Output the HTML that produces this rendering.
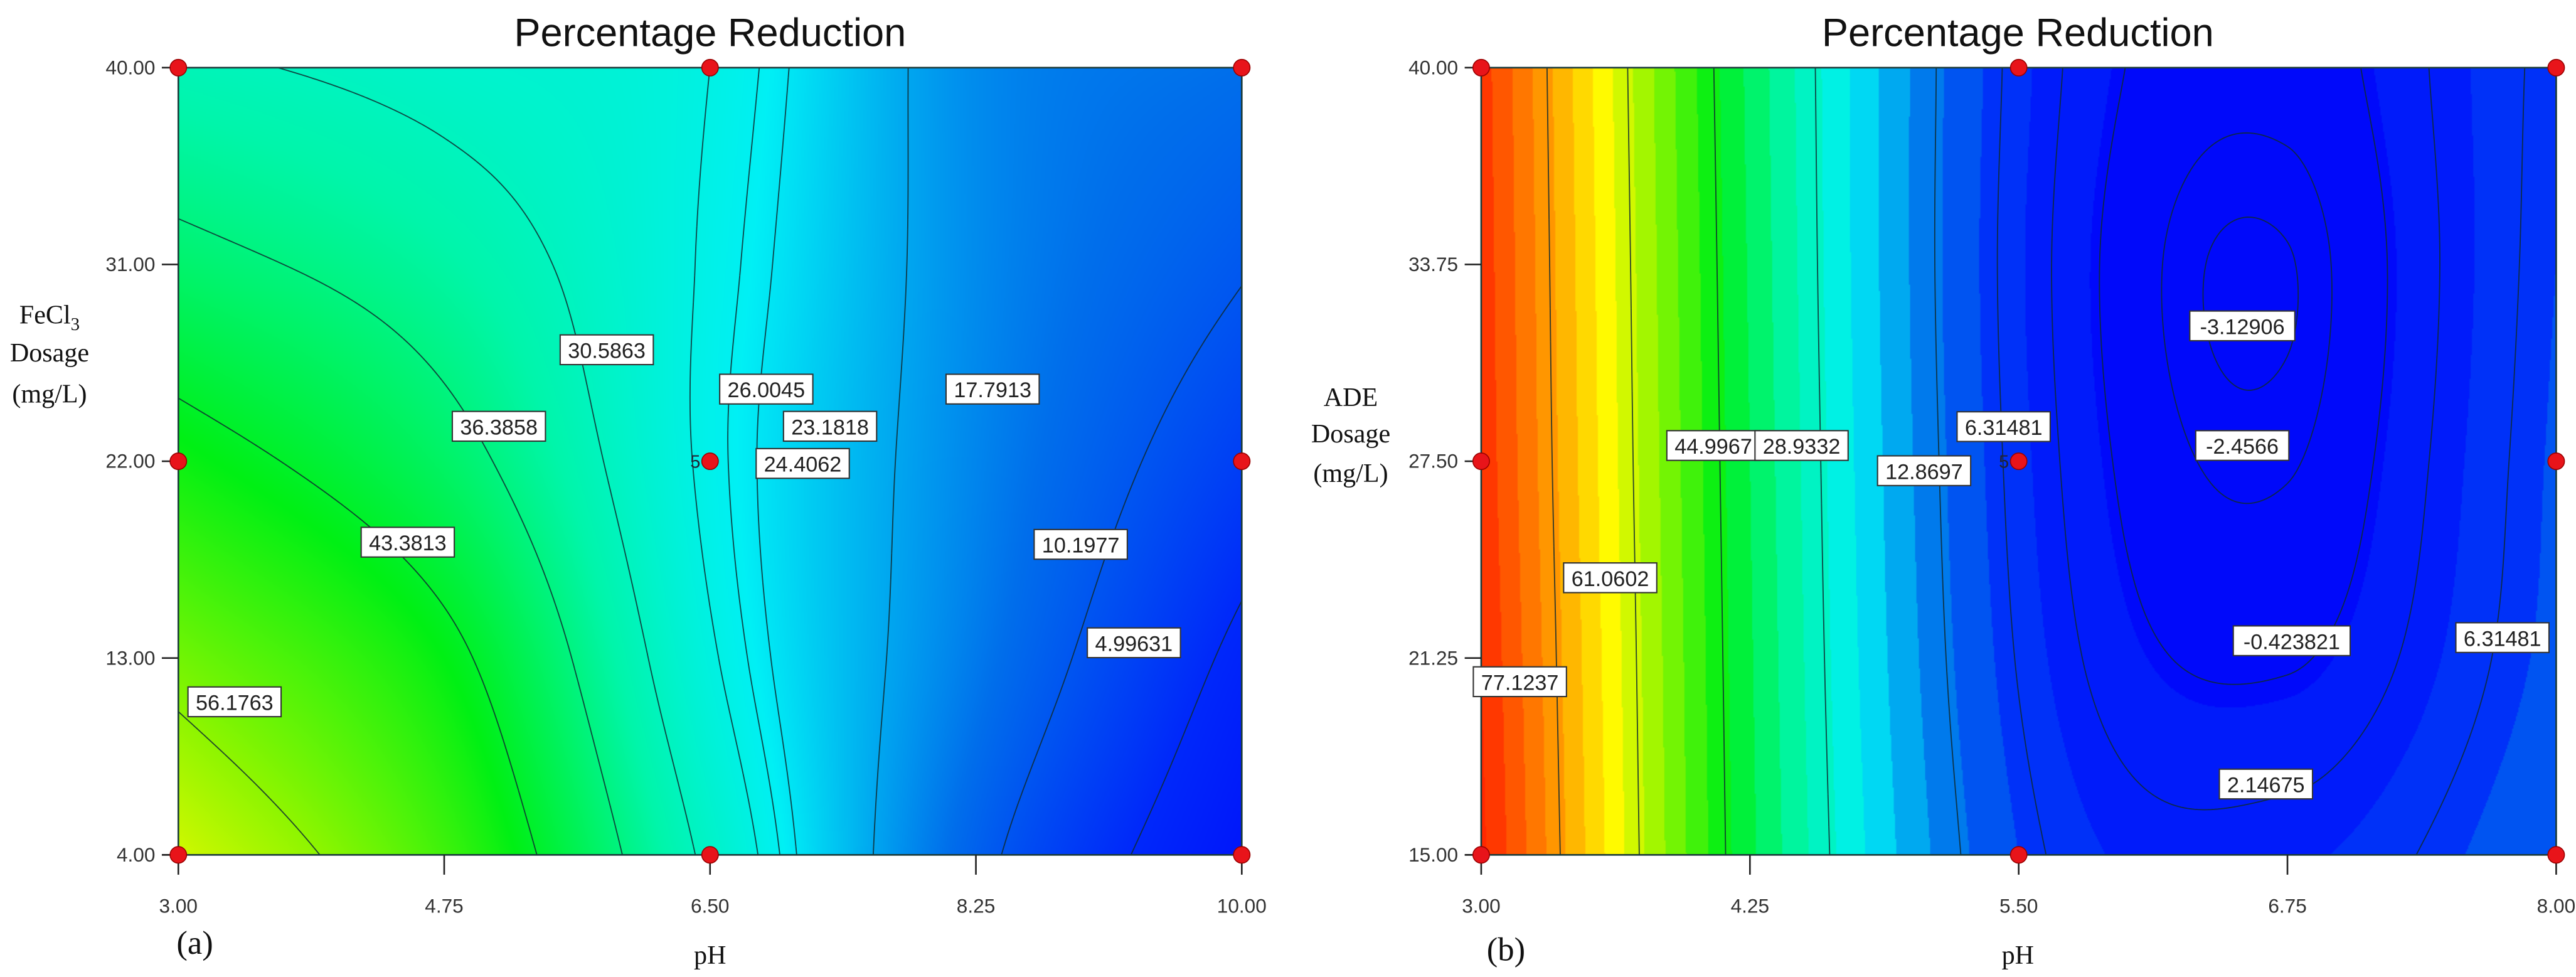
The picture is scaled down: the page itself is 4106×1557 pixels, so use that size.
<!DOCTYPE html>
<html><head><meta charset="utf-8">
<style>
html,body{margin:0;padding:0;background:#fff;}
#wrap{position:relative;width:4106px;height:1557px;overflow:hidden;background:#fff;}
canvas{position:absolute;}
svg{position:absolute;left:0;top:0;}
</style></head>
<body>
<div id="wrap">
<canvas id="cA"></canvas>
<canvas id="cB"></canvas>
<svg id="sv" width="4106" height="1557" viewBox="0 0 1560 592" preserveAspectRatio="none"></svg>
</div>
<script>
// ---------- Panel (a) data ----------
const aPH = [3, 4.75, 6.5, 8.25, 10];
const aDose = [40, 31, 22, 13, 4];
const aVals = [
  [31.5, 29, 26, 15.5, 13],
  [38, 33.5, 25.5, 15.5, 10.5],
  [46, 38.5, 25.2, 15, 7.5],
  [54, 45, 26.5, 14, 4],
  [62, 50, 29.5, 11.5, 1]
];
const aLevels = [56.1763, 43.3813, 36.3858, 30.5863, 26.0045, 24.4062, 23.1818, 17.7913, 10.1977, 4.99631];
const aLabelText = ["56.1763","43.3813","36.3858","30.5863","26.0045","23.1818","24.4062","17.7913","10.1977","4.99631"];
const aLabelPH = [3.37, 4.51, 5.11, 5.82, 6.87, 7.29, 7.11, 8.36, 8.94, 9.29];
const aLabelDose = [11.0, 18.3, 23.6, 27.1, 25.3, 23.6, 21.9, 25.3, 18.2, 13.7];
const aXTicks = ["3.00","4.75","6.50","8.25","10.00"];
const aYTicks = ["40.00","31.00","22.00","13.00","4.00"];
const aPtsPH = [3, 6.5, 10, 3, 6.5, 10, 3, 6.5, 10];
const aPtsDose = [40, 40, 40, 22, 22, 22, 4, 4, 4];

// ---------- Panel (b) data ----------
const bPH = [3, 4.25, 5.5, 6.75, 8];
const bDose = [40, 33.75, 27.5, 21.25, 15];
const bVals = [
  [90, 39, 5, -1.8, 7.5],
  [90.5, 39.5, 4.5, -3.2, 8],
  [91, 40, 5, -2.6, 8.5],
  [92, 40.5, 6, -0.7, 9],
  [93, 41, 8, 3.5, 11]
];
const bLevels = [77.1237, 61.0602, 44.9967, 28.9332, 12.8697, 6.31481, 2.14675, -0.423821, -2.4566, -3.12906];
const bLabelText = ["77.1237","61.0602","44.9967","28.9332","12.8697","6.31481","-3.12906","-2.4566","-0.423821","2.14675","6.31481"];
const bLabelPH = [3.18, 3.60, 4.08, 4.49, 5.06, 5.43, 6.54, 6.54, 6.77, 6.65, 7.75];
const bLabelDose = [20.5, 23.8, 28.0, 28.0, 27.2, 28.6, 31.8, 28.0, 21.8, 17.25, 21.9];
const bXTicks = ["3.00","4.25","5.50","6.75","8.00"];
const bYTicks = ["40.00","33.75","27.50","21.25","15.00"];
const bPtsPH = [3, 5.5, 8, 3, 5.5, 8, 3, 5.5, 8];
const bPtsDose = [40, 40, 40, 27.5, 27.5, 27.5, 15, 15, 15];

// ---------- helpers ----------
const S = 4106/1560, SV = 1557/592;
const NS = "http://www.w3.org/2000/svg";
const sv = document.getElementById('sv');
function mk(tag, attrs, parent){ const e=document.createElementNS(NS,tag); for(const k in attrs) e.setAttribute(k,attrs[k]); (parent||sv).appendChild(e); return e; }

function cr(p0,p1,p2,p3,t){ return 0.5*((2*p1)+(-p0+p2)*t+(2*p0-5*p1+4*p2-p3)*t*t+(-p0+3*p1-3*p2+p3)*t*t*t); }
function gv(g,r,c){
  const n=g.length;
  const rr=Math.max(0,Math.min(n-1,r)), cc=Math.max(0,Math.min(n-1,c));
  let v=g[rr][cc];
  if(r<0) v=2*g[0][cc]-g[1][cc];
  if(r>n-1) v=2*g[n-1][cc]-g[n-2][cc];
  if(c<0) v=2*g[rr][0]-g[rr][1];
  if(c>n-1) v=2*g[rr][n-1]-g[rr][n-2];
  return v;
}
function interp(g,u,v){
  const n=g.length;
  let i=Math.min(n-2,Math.floor(u)), j=Math.min(n-2,Math.floor(v));
  const tu=u-i, tv=v-j; const rows=[];
  for(let k=-1;k<=2;k++){
    rows.push(cr(gv(g,j+k,i-1),gv(g,j+k,i),gv(g,j+k,i+1),gv(g,j+k,i+2),tu));
  }
  return cr(rows[0],rows[1],rows[2],rows[3],tv);
}
const cstops=[[-4,[0,0,250]],[5,[0,40,250]],[13,[0,110,235]],[24,[0,240,245]],[33,[0,245,170]],[45,[0,240,20]],[56,[140,245,0]],[66,[255,250,0]],[78,[255,150,0]],[92,[255,40,0]]];
function col(v){
  if(v<=cstops[0][0]) return cstops[0][1];
  for(let i=1;i<cstops.length;i++){ if(v<=cstops[i][0]){ const a=cstops[i-1],b=cstops[i]; const t=(v-a[0])/(b[0]-a[0]); return [0,1,2].map(k=>a[1][k]+(b[1][k]-a[1][k])*t);} }
  return cstops[cstops.length-1][1];
}

function panel(o){
  const {x0,x1,y0,y1,vals,canvasId,quant,levels,labels,lpH,lDose,xT,yT,phArr,doseArr,ptsPH,ptsDose,id}=o;
  const xMin=phArr[0], xMax=phArr[phArr.length-1], yMax=doseArr[0], yMin=doseArr[doseArr.length-1];
  const X=p=>x0+(p-xMin)/(xMax-xMin)*(x1-x0);
  const Y=d=>y0+(yMax-d)/(yMax-yMin)*(y1-y0);
  const n=vals.length-1;
  const f=(px,py)=>interp(vals,(px-x0)/(x1-x0)*n,(py-y0)/(y1-y0)*n);
  const cv=document.getElementById(canvasId);
  const W=Math.round((x1-x0)*S), H=Math.round((y1-y0)*SV);
  const w=Math.round(W/2), h=Math.round(H/2);
  cv.width=w; cv.height=h;
  cv.style.left=(x0*S)+'px'; cv.style.top=(y0*SV)+'px'; cv.style.width=W+'px'; cv.style.height=H+'px';
  const ctx=cv.getContext('2d'); const im=ctx.createImageData(w,h);
  for(let j=0;j<h;j++){ for(let i=0;i<w;i++){
    let v=interp(vals,(i+0.5)/w*n,(j+0.5)/h*n);
    if(quant) v=Math.floor(v/quant)*quant+quant/2;
    const c=col(v); const k=(j*w+i)*4;
    im.data[k]=c[0];im.data[k+1]=c[1];im.data[k+2]=c[2];im.data[k+3]=255;
  }}
  ctx.putImageData(im,0,0);
  const g=mk('g',{});
  
  
  const st=2; const nx=Math.ceil((x1-x0)/st), ny=Math.ceil((y1-y0)/st);
  const grid=[];
  for(let j=0;j<=ny;j++){ const row=[]; for(let i=0;i<=nx;i++){ row.push(f(Math.min(x1,x0+i*st),Math.min(y1,y0+j*st))); } grid.push(row); }
  levels.forEach((L,li)=>{
    let d='';
    for(let j=0;j<ny;j++) for(let i=0;i<nx;i++){
      const px=x0+i*st, py=y0+j*st, pxe=Math.min(x1,px+st), pye=Math.min(y1,py+st);
      const a=grid[j][i], b=grid[j][i+1], c=grid[j+1][i+1], e=grid[j+1][i];
      const pts=[];
      const ed=(va,vb,xa,ya,xb,yb)=>{ if((va-L)*(vb-L)<0){ const t=(L-va)/(vb-va); pts.push([xa+(xb-xa)*t, ya+(yb-ya)*t]); } };
      ed(a,b,px,py,pxe,py); ed(b,c,pxe,py,pxe,pye); ed(c,e,pxe,pye,px,pye); ed(e,a,px,pye,px,py);
      if(pts.length>=2) d+='M'+pts[0][0].toFixed(2)+' '+pts[0][1].toFixed(2)+'L'+pts[1][0].toFixed(2)+' '+pts[1][1].toFixed(2);
      if(pts.length===4) d+='M'+pts[2][0].toFixed(2)+' '+pts[2][1].toFixed(2)+'L'+pts[3][0].toFixed(2)+' '+pts[3][1].toFixed(2);
    }
    const p=mk('path',{d:d,stroke:'#0f2a30',"stroke-width":0.7,fill:'none',"stroke-opacity":0.85},g);
    
    
  });
  const fr=mk('rect',{x:x0,y:y0,width:x1-x0,height:y1-y0,fill:'none',stroke:'#1a3a3a',"stroke-width":1},g);
  
  
  xT.forEach((t,i)=>{
    const x=X(phArr[i]);
    mk('line',{x1:x,y1:y1,x2:x,y2:y1+12,stroke:'#222',"stroke-width":1},g);
    const tx=mk('text',{x:x,y:y1+35,"text-anchor":'middle',"font-size":12,fill:'#333',"font-family":'Liberation Sans Narrow, Liberation Sans, sans-serif'},g);
    tx.textContent=t;
    
    
  });
  yT.forEach((t,i)=>{
    const y=Y(doseArr[i]);
    mk('line',{x1:x0-10,y1:y,x2:x0,y2:y,stroke:'#222',"stroke-width":1},g);
    const tx=mk('text',{x:x0-14,y:y+4,"text-anchor":'end',"font-size":12,fill:'#333',"font-family":'Liberation Sans Narrow, Liberation Sans, sans-serif'},g);
    tx.textContent=t;
    
    
  });
  ptsPH.forEach((p,i)=>{
    const c=mk('ellipse',{cx:X(p),cy:Y(ptsDose[i]),rx:5,ry:5,fill:'#e8141a',stroke:'#900',"stroke-width":0.6},g);
    
    
  });
  const five=mk('text',{x:X(ptsPH[4])-12,y:Y(ptsDose[4])+4,"font-size":11,fill:'#223',"font-family":'Liberation Sans, sans-serif'},g);
  five.textContent='5';
  
  
  labels.forEach((t,i)=>{
    const cx=X(lpH[i]), cy=Y(lDose[i]); const w=t.length*7.2+6;
    const lg=mk('g',{},g);
    
    
    mk('rect',{x:cx-w/2,y:cy-9,width:w,height:18,fill:'#fff',stroke:'#333',"stroke-width":0.8},lg);
    const tx=mk('text',{x:cx,y:cy+5,"text-anchor":'middle',"font-size":13,fill:'#222',"font-family":'Liberation Sans Narrow, Liberation Sans, sans-serif'},lg);
    tx.textContent=t;
  });
}

panel({id:'a',x0:108,x1:752,y0:41,y1:518,vals:aVals,canvasId:'cA',quant:0,levels:aLevels,labels:aLabelText,lpH:aLabelPH,lDose:aLabelDose,xT:aXTicks,yT:aYTicks,phArr:aPH,doseArr:aDose,ptsPH:aPtsPH,ptsDose:aPtsDose});
panel({id:'b',x0:897,x1:1548,y0:41,y1:518,vals:bVals,canvasId:'cB',quant:4,levels:bLevels,labels:bLabelText,lpH:bLabelPH,lDose:bLabelDose,xT:bXTicks,yT:bYTicks,phArr:bPH,doseArr:bDose,ptsPH:bPtsPH,ptsDose:bPtsDose});

function txt(x,y,s,size,fam,name,anchor){
  const t=mk('text',{x:x,y:y,"font-size":size,"font-family":fam,fill:'#111',"text-anchor":anchor||'middle'});
  t.textContent=s;
  
  
  return t;
}
const serif='Liberation Serif, serif', sans='Liberation Sans, sans-serif';
txt(430,28,'Percentage Reduction',24,sans,'title-a');
txt(1222,28,'Percentage Reduction',24,sans,'title-b');
txt(430,584,'pH',16,serif,'x-axis-title-a');
txt(1222,584,'pH',16,serif,'x-axis-title-b');
txt(118,578,'(a)',20,serif,'panel-label-a');
txt(912,582,'(b)',20,serif,'panel-label-b');
const fe=txt(30,196,'FeCl',16,serif,'y-axis-title-a-line1');
const sb=mk('tspan',{"font-size":11,dy:4},fe); sb.textContent='3';
txt(30,219,'Dosage',16,serif,'y-axis-title-a-line2');
txt(30,244,'(mg/L)',16,serif,'y-axis-title-a-line3');
txt(818,246,'ADE',16,serif,'y-axis-title-b-line1');
txt(818,268,'Dosage',16,serif,'y-axis-title-b-line2');
txt(818,292,'(mg/L)',16,serif,'y-axis-title-b-line3');
</script>
</body></html>
